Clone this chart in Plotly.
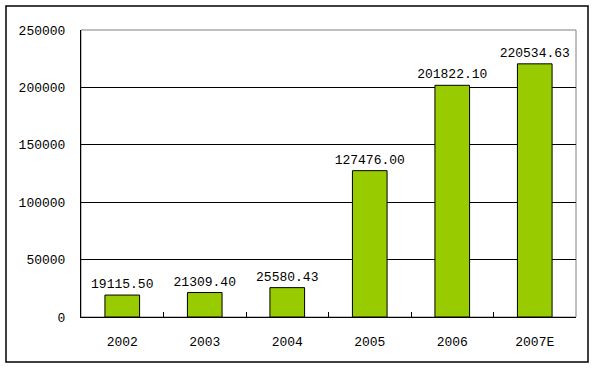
import plotly.graph_objects as go

categories = ["2002", "2003", "2004", "2005", "2006", "2007E"]
values = [19115.50, 21309.40, 25580.43, 127476.00, 201822.10, 220534.63]
value_labels = ["19115.50", "21309.40", "25580.43", "127476.00", "201822.10", "220534.63"]
y_ticks = [0, 50000, 100000, 150000, 200000, 250000]

FONT = "Liberation Mono, DejaVu Sans Mono, monospace"
FS = 13

fig = go.Figure()
fig.add_trace(go.Bar(
    x=categories, y=values,
    text=value_labels, textposition="outside", constraintext="none",
    textfont=dict(family=FONT, size=FS, color="black"),
    marker=dict(color="#99CC00", line=dict(color="black", width=1)),
    width=0.42, cliponaxis=False, hoverinfo="skip",
))

L, R, T, B = 81, 19, 30, 52
W, H = 595, 369
pw, ph = W - L - R, H - T - B

def px_x(x):
    return (x - L) / pw

def px_y(y):
    return (H - B - y) / ph

fig.update_layout(
    width=W, height=H,
    margin=dict(l=L, r=R, t=T, b=B, autoexpand=False),
    paper_bgcolor="white", plot_bgcolor="white",
    showlegend=False,
    font=dict(family=FONT, size=FS, color="black"),
    xaxis=dict(
        showgrid=False, showline=True, linecolor="black", linewidth=1,
        ticks="inside", ticklen=5, tickcolor="black", tickson="boundaries",
        tickfont=dict(family=FONT, size=FS), ticklabelstandoff=12,
        automargin=False,
    ),
    yaxis=dict(
        range=[0, 250000], tickvals=y_ticks, ticktext=[str(v) for v in y_ticks],
        showgrid=True, gridcolor="black", gridwidth=1,
        showline=True, linecolor="black", linewidth=1,
        ticks="inside", ticklen=5, tickcolor="black",
        zeroline=False, tickfont=dict(family=FONT, size=FS),
        ticklabelstandoff=12, automargin=False,
    ),
    shapes=[
        dict(type="rect", xref="paper", yref="paper", x0=0, x1=1, y0=0, y1=1,
             line=dict(color="#808080", width=1), layer="below"),
        dict(type="rect", xref="paper", yref="paper",
             x0=px_x(6), x1=px_x(588), y0=px_y(362), y1=px_y(6),
             line=dict(color="black", width=1.5)),
    ],
)

fig.write_html("out.html", config={"displayModeBar": False},
               post_script="document.body.style.margin='0';")
